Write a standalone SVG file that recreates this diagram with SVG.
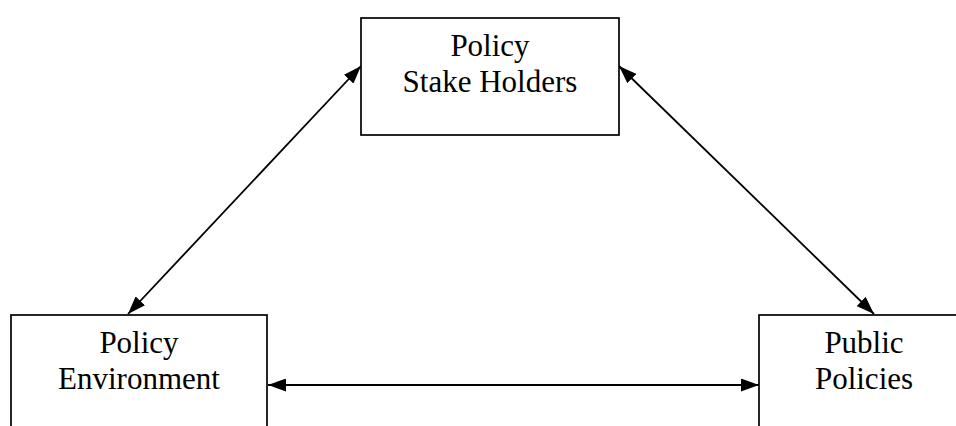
<svg xmlns="http://www.w3.org/2000/svg" width="956" height="426" viewBox="0 0 956 426">
  <style>
    .box { fill: #fff; stroke: #000; stroke-width: 1.7; }
    .label { font-family: "Liberation Serif", "Times New Roman", serif; font-size: 31px; fill: #000; text-anchor: middle; }
    .link { fill: none; stroke: #000; stroke-width: 1.8; marker-start: url(#head); marker-end: url(#head); }
  </style>
  <defs>
    <marker id="head" viewBox="0 0 18 13" refX="18" refY="6.5" markerWidth="18" markerHeight="13" markerUnits="userSpaceOnUse" orient="auto-start-reverse">
      <path d="M0,0 L18,6.5 L0,13 Z" fill="#000"/>
    </marker>
  </defs>
  <rect width="956" height="426" fill="#fff"/>

  <g id="connectors">
    <line class="link" x1="128" y1="314" x2="361" y2="66"/>
    <line class="link" x1="619" y1="66" x2="874" y2="314"/>
    <line class="link" x1="268" y1="385" x2="759" y2="385" style="stroke-width:2.2"/>
  </g>

  <g id="stakeholders">
    <rect class="box" x="361" y="18" width="258" height="117"/>
    <text class="label" x="490" y="56">Policy</text>
    <text class="label" x="490" y="92">Stake Holders</text>
  </g>

  <g id="environment">
    <rect class="box" x="11" y="315" width="256" height="130"/>
    <text class="label" x="139" y="353">Policy</text>
    <text class="label" x="139" y="389">Environment</text>
  </g>

  <g id="policies">
    <rect class="box" x="759" y="315" width="210" height="130"/>
    <text class="label" x="864" y="353">Public</text>
    <text class="label" x="864" y="389">Policies</text>
  </g>
</svg>
